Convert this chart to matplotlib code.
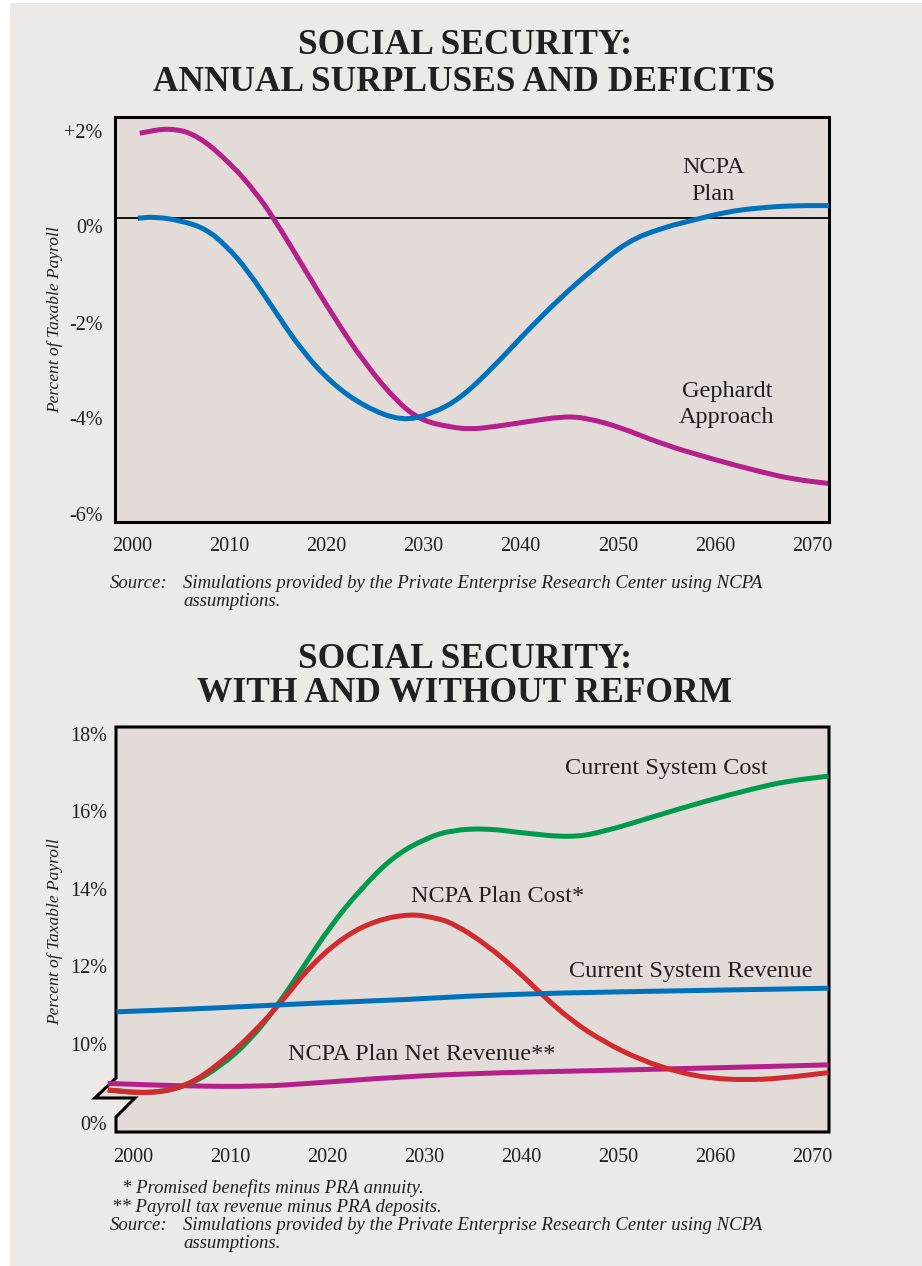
import matplotlib.pyplot as plt
from matplotlib.patches import Polygon, Rectangle, PathPatch
from matplotlib.path import Path

# ---- data ----
# chart 1: annual surpluses / deficits (% of taxable payroll)
ncpa_years = [2000.6, 2002.4, 2005.1, 2007.5, 2009.6, 2012.0, 2014.7, 2017.5, 2020.6, 2024.0,
              2027.8, 2030.9, 2033.8, 2037.2, 2040.7, 2044.1, 2047.6, 2051.0, 2054.4, 2057.9,
              2061.3, 2064.7, 2068.2, 2071.8]
ncpa_vals = [0.0, 0.03, -0.05, -0.2, -0.52, -1.05, -1.83, -2.62, -3.27, -3.73,
             -4.01, -3.86, -3.56, -2.94, -2.22, -1.57, -0.98, -0.46, -0.2, -0.03,
             0.13, 0.21, 0.25, 0.25]
geph_years = [2000.8, 2003.9, 2006.8, 2010.3, 2012.7, 2014.6, 2017.5, 2020.6, 2024.0, 2027.5,
              2029.9, 2032.6, 2034.8, 2037.2, 2040.3, 2044.5, 2046.9, 2050.3, 2054.4, 2059.6,
              2064.7, 2068.2, 2071.8]
geph_vals = [1.68, 1.79, 1.64, 1.05, 0.52, 0.0, -0.92, -1.90, -2.88, -3.67,
             -4.0, -4.12, -4.17, -4.12, -4.03, -3.91, -3.95, -4.13, -4.45, -4.75,
             -5.01, -5.16, -5.24]

# chart 2: with and without reform (% of taxable payroll)
cost_years = [1997.4, 2001.75, 2005.5, 2009.0, 2012.1, 2014.8, 2017.6, 2020.3, 2023.4, 2026.8,
              2030.3, 2033.0, 2036.5, 2039.9, 2045.1, 2048.5, 2053.6, 2058.8, 2064.0, 2067.4,
              2071.7]
cost_vals = [8.62, 8.53, 8.71, 9.22, 9.91, 10.77, 11.81, 12.84, 13.79, 14.65,
             15.14, 15.34, 15.38, 15.27, 15.14, 15.29, 15.68, 16.07, 16.41, 16.60,
             16.73]
plan_cost_years = [1997.4, 2001.75, 2005.5, 2009.0, 2012.4, 2015.5, 2018.2, 2021.7, 2025.1, 2028.6,
                   2031.0, 2033.0, 2036.5, 2039.9, 2042.0, 2045.1, 2048.5, 2052.3, 2056.1, 2059.5,
                   2063.3, 2066.7, 2071.7]
plan_cost_vals = [8.62, 8.52, 8.71, 9.31, 10.09, 10.95, 11.81, 12.58, 13.01, 13.17,
                  13.08, 12.93, 12.37, 11.64, 11.12, 10.43, 9.87, 9.40, 9.09, 8.92,
                  8.88, 8.92, 9.07]
rev_years = [1998.3, 2007.9, 2018.2, 2028.6, 2034.6, 2044.0, 2057.8, 2071.7]
rev_vals = [10.64, 10.73, 10.86, 10.96, 11.05, 11.13, 11.19, 11.25]
net_years = [1997.4, 2005.5, 2013.1, 2018.2, 2025.1, 2034.6, 2047.5, 2061.2, 2071.7]
net_vals = [8.79, 8.72, 8.71, 8.79, 8.92, 9.05, 9.12, 9.20, 9.27]

xtick_years = [2000, 2010, 2020, 2030, 2040, 2050, 2060, 2070]
ytick_labels1 = ["+2%", "0%", "-2%", "-4%", "-6%"]
ytick_labels2 = ["18%", "16%", "14%", "12%", "10%", "0%"]

# ---- style ----
BG = "#ece9e6"
FACE = "#e2dbd8"
INK = "#231f20"
MAGENTA = "#b5208b"
BLUE = "#0071bb"
GREEN = "#009a4e"
RED = "#d12a2f"
SERIF = ["Liberation Serif", "DejaVu Serif"]
plt.rcParams["font.family"] = SERIF

W, H = 922, 1266
fig = plt.figure(figsize=(W / 100, H / 100), dpi=100, facecolor="white")
fig.patches.append(Rectangle((10 / W, 0), 1, 1 - 3 / H, transform=fig.transFigure,
                             facecolor=BG, edgecolor="none", zorder=-10))


def fx(px):
    return px / W


def fy(py):
    return 1 - py / H


def ftext(x, y, s, **kw):
    fig.text(fx(x), fy(y), s, color=INK, va="baseline", **kw)


LW = 3.6
XLIM = (1998.25, 2071.75)


def smooth_line(ax, xs, ys, color, zorder, clip=True):
    # quadratic bezier through the midpoints, so the printed curve looks smooth
    pts = list(zip(xs, ys))
    verts = [pts[0]]
    codes = [Path.MOVETO]
    if len(pts) > 2:
        m = ((pts[0][0] + pts[1][0]) / 2, (pts[0][1] + pts[1][1]) / 2)
        verts.append(m)
        codes.append(Path.LINETO)
        for i in range(1, len(pts) - 1):
            m = ((pts[i][0] + pts[i + 1][0]) / 2, (pts[i][1] + pts[i + 1][1]) / 2)
            verts += [pts[i], m]
            codes += [Path.CURVE3, Path.CURVE3]
    verts.append(pts[-1])
    codes.append(Path.LINETO)
    patch = PathPatch(Path(verts, codes), fill=False, edgecolor=color, lw=LW,
                      capstyle="butt", joinstyle="round", transform=ax.transData,
                      zorder=zorder, clip_on=clip)
    ax.add_patch(patch)


# ================= chart 1 =================
ax1 = fig.add_axes([fx(115), fy(522), fx(829) - fx(115), fy(117) - fy(522)])
ax1.set_facecolor(FACE)
ax1.set_xlim(*XLIM)
ax1.set_ylim(-6, 2)
for sp in ax1.spines.values():
    sp.set_linewidth(2.2)
    sp.set_color("black")
ax1.axhline(0, color="black", lw=1.3, zorder=1)
smooth_line(ax1, geph_years, geph_vals, MAGENTA, 2)
smooth_line(ax1, ncpa_years, ncpa_vals, BLUE, 3)
ax1.set_xticks(xtick_years, [str(y) for y in xtick_years])
# labels sit where the original printed them (slightly compressed spacing)
ax1.set_yticks([1.72, -0.16, -2.07, -3.95, -5.84], ytick_labels1)
ax1.tick_params(axis="both", length=0, labelsize=14.5, labelcolor=INK)
ax1.tick_params(axis="y", pad=9)
ax1.tick_params(axis="x", pad=11)

ftext(713, 173, "NCPA", fontsize=17.5, ha="center")
ftext(713, 200, "Plan", fontsize=17.5, ha="center")
ftext(727, 397, "Gephardt", fontsize=17.5, ha="center")
ftext(727, 423, "Approach", fontsize=17.5, ha="center")

ftext(465, 54, "SOCIAL SECURITY:", fontsize=25.5, fontweight="bold", ha="center")
ftext(464, 91, "ANNUAL SURPLUSES AND DEFICITS", fontsize=25.5, fontweight="bold", ha="center")
fig.text(fx(55), fy(320), "Percent of Taxable Payroll", rotation=90, style="italic",
         fontsize=12.5, color=INK, ha="center", va="center")
ftext(110, 588, "Source:", fontsize=13.5, style="italic")
ftext(183, 588, "Simulations provided by the Private Enterprise Research Center using NCPA",
      fontsize=13.5, style="italic")
ftext(183, 606, "assumptions.", fontsize=13.5, style="italic")

# ================= chart 2 =================
ax2 = fig.add_axes([fx(116), fy(1132), fx(829) - fx(116), fy(727) - fy(1132)])
ax2.patch.set_visible(False)
for sp in ax2.spines.values():
    sp.set_visible(False)
ax2.set_xlim(*XLIM)
ax2.set_ylim(7.535, 18)
# frame with the broken-axis zigzag on the left side
frame = Polygon([(0, 1), (0, 0.1333), (-0.0295, 0.084), (0.0266, 0.084), (0, 0.037),
                 (0, 0), (1, 0), (1, 1)], closed=True, transform=ax2.transAxes,
                facecolor=FACE, edgecolor="black", lw=2.2, joinstyle="miter",
                clip_on=False, zorder=0)
ax2.add_patch(frame)
smooth_line(ax2, net_years, net_vals, MAGENTA, 2, clip=False)
smooth_line(ax2, cost_years, cost_vals, GREEN, 3, clip=False)
smooth_line(ax2, plan_cost_years, plan_cost_vals, RED, 4, clip=False)
smooth_line(ax2, rev_years, rev_vals, BLUE, 5, clip=False)
ax2.set_xticks(xtick_years, [str(y) for y in xtick_years])
ax2.set_yticks([17.82, 15.82, 13.82, 11.82, 9.82, 7.77], ytick_labels2)
ax2.tick_params(axis="both", length=0, labelsize=14.5, labelcolor=INK)
ax2.tick_params(axis="y", pad=6.5)
ax2.tick_params(axis="x", pad=11.5)

ftext(666, 774, "Current System Cost", fontsize=17.5, ha="center")
ftext(498, 902, "NCPA Plan Cost*", fontsize=17.5, ha="center")
ftext(691, 977, "Current System Revenue", fontsize=17.5, ha="center")
ftext(422, 1060, "NCPA Plan Net Revenue**", fontsize=17.5, ha="center")

ftext(465, 668, "SOCIAL SECURITY:", fontsize=25.5, fontweight="bold", ha="center")
ftext(464, 702, "WITH AND WITHOUT REFORM", fontsize=25.5, fontweight="bold", ha="center")
fig.text(fx(55), fy(932), "Percent of Taxable Payroll", rotation=90, style="italic",
         fontsize=12.5, color=INK, ha="center", va="center")
ftext(122, 1193, "* Promised benefits minus PRA annuity.", fontsize=13.5, style="italic")
ftext(112, 1212, "** Payroll tax revenue minus PRA deposits.", fontsize=13.5, style="italic")
ftext(110, 1230, "Source:", fontsize=13.5, style="italic")
ftext(183, 1230, "Simulations provided by the Private Enterprise Research Center using NCPA",
      fontsize=13.5, style="italic")
ftext(183, 1248, "assumptions.", fontsize=13.5, style="italic")

fig.savefig("out.png", dpi=100, facecolor=fig.get_facecolor())
